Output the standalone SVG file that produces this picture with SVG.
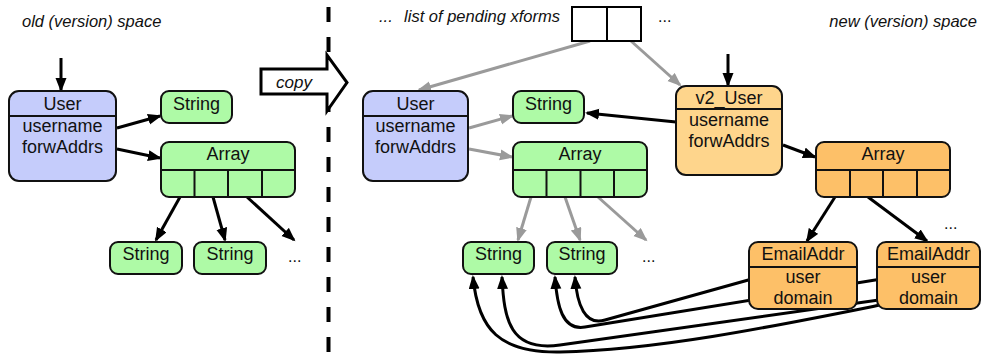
<svg xmlns="http://www.w3.org/2000/svg" width="981" height="356" viewBox="0 0 981 356">
  <defs>
    <marker id="ah" markerUnits="userSpaceOnUse" markerWidth="15" markerHeight="12" refX="12" refY="5.5" orient="auto">
      <path d="M0,0 L14,5.5 L0,11 z" fill="#000"/>
    </marker>
    <marker id="ahg" markerUnits="userSpaceOnUse" markerWidth="15" markerHeight="12" refX="12" refY="5.5" orient="auto">
      <path d="M0,0 L14,5.5 L0,11 z" fill="#9a9a9a"/>
    </marker>
    <style>
      text { font-family: "Liberation Sans", Arial, Helvetica, sans-serif; fill: #111; }
      .lbl { font-size: 18px; text-anchor: middle; }
      .cap { font-size: 16.5px; font-style: italic; }
      .dots { font-size: 16px; }
      .box { stroke: #111; stroke-width: 2; }
      .div { stroke: #111; stroke-width: 2; fill: none; }
      .blue { fill: #c5ccfb; }
      .green { fill: #aefaa6; }
      .ltorange { fill: #fed58c; }
      .orange { fill: #fdc068; }
      .blk { stroke: #000; stroke-width: 3; fill: none; marker-end: url(#ah); }
      .gry { stroke: #9a9a9a; stroke-width: 3; fill: none; marker-end: url(#ahg); }
    </style>
  </defs>

  <rect width="981" height="356" fill="#fff"/>

  <!-- captions -->
  <text class="cap" x="22" y="27">old (version) space</text>
  <text class="cap" x="977" y="27" text-anchor="end">new (version) space</text>
  <text class="cap" x="379" y="22">...</text>
  <text class="cap" x="560" y="22" text-anchor="end">list of pending xforms</text>
  <text class="dots" x="658" y="22">...</text>

  <!-- divider between the two spaces -->
  <line x1="328.5" y1="7" x2="328.5" y2="356" stroke="#000" stroke-width="4" stroke-dasharray="15 15"/>

  <!-- copy arrow -->
  <g id="copy">
    <polygon points="261,69 327,69 327,55 347,82.5 327,111 327,94 261,94" fill="#fff" stroke="#000" stroke-width="3" stroke-linejoin="miter"/>
    <text class="cap" x="294" y="88" text-anchor="middle" style="font-size:17px">copy</text>
  </g>

  <!-- connectors -->
  <g id="connectors">
    <!-- old space -->
    <line class="blk" x1="61" y1="58" x2="61" y2="90"/>
    <line class="blk" x1="117" y1="128" x2="160" y2="116"/>
    <line class="blk" x1="117" y1="149" x2="160" y2="158"/>
    <line class="blk" x1="180" y1="197" x2="156" y2="240"/>
    <line class="blk" x1="213" y1="197" x2="225" y2="240"/>
    <line class="blk" x1="247" y1="197" x2="294" y2="240"/>

    <!-- pending transform list -->
    <line class="gry" x1="590" y1="41" x2="419" y2="90"/>
    <line class="gry" x1="631" y1="41" x2="680" y2="85"/>

    <!-- new space, old copies -->
    <line class="gry" x1="469" y1="128" x2="512" y2="116"/>
    <line class="gry" x1="469" y1="149" x2="512" y2="157"/>
    <line class="gry" x1="531" y1="197" x2="518" y2="240"/>
    <line class="gry" x1="565" y1="197" x2="580" y2="240"/>
    <line class="gry" x1="598" y1="197" x2="646" y2="240"/>

    <!-- new space, transformed objects -->
    <line class="blk" x1="728" y1="54" x2="728" y2="85"/>
    <line class="blk" x1="676" y1="122" x2="587" y2="113"/>
    <line class="blk" x1="783" y1="145" x2="815" y2="157"/>
    <line class="blk" x1="835" y1="197" x2="807" y2="241"/>
    <line class="blk" x1="868" y1="197" x2="927" y2="241"/>

    <!-- EmailAddr fields back to the strings -->
    <path class="blk" d="M770 274 L605 320 C585 326 577 305 575 277"/>
    <path class="blk" d="M900 276 L585 327 C562 331 557 305 555 277"/>
    <path class="blk" d="M900 297 L560 345 C510 352 504 320 502 277"/>
    <path class="blk" d="M885 304 C780 325 660 350 560 352 C500 353 478 330 473 277"/>
  </g>

  <!-- old space nodes -->
  <g id="old-user">
    <rect class="box blue" x="9" y="91" width="107" height="90" rx="10"/>
    <line class="div" x1="9" y1="116" x2="116" y2="116"/>
    <text class="lbl" x="62.5" y="110">User</text>
    <text class="lbl" x="62.5" y="132">username</text>
    <text class="lbl" x="62.5" y="153">forwAddrs</text>
  </g>
  <g id="old-string-name">
    <rect class="box green" x="161" y="91" width="71" height="32" rx="8"/>
    <text class="lbl" x="196.5" y="110">String</text>
  </g>
  <g id="old-array">
    <rect class="box green" x="161" y="142" width="134" height="55" rx="8"/>
    <path class="div" d="M161 170 H295 M194.5 170 V197 M228 170 V197 M262 170 V197"/>
    <text class="lbl" x="228" y="160">Array</text>
  </g>
  <g id="old-string-1">
    <rect class="box green" x="110" y="242" width="72" height="32" rx="8"/>
    <text class="lbl" x="146" y="260">String</text>
  </g>
  <g id="old-string-2">
    <rect class="box green" x="194" y="242" width="72" height="32" rx="8"/>
    <text class="lbl" x="230" y="260">String</text>
  </g>
  <text class="dots" x="288" y="262">...</text>

  <!-- pending transform list -->
  <g id="xform-list">
    <rect x="572" y="7" width="69" height="34" fill="#fff" stroke="#000" stroke-width="2"/>
    <line x1="607" y1="7" x2="607" y2="41" stroke="#000" stroke-width="2"/>
  </g>

  <!-- new space: old copies -->
  <g id="new-old-user">
    <rect class="box blue" x="363" y="91" width="105" height="90" rx="10"/>
    <line class="div" x1="363" y1="116" x2="468" y2="116"/>
    <text class="lbl" x="415.5" y="110">User</text>
    <text class="lbl" x="415.5" y="132">username</text>
    <text class="lbl" x="415.5" y="153">forwAddrs</text>
  </g>
  <g id="new-string-name">
    <rect class="box green" x="513" y="91" width="71" height="32" rx="8"/>
    <text class="lbl" x="548.5" y="110">String</text>
  </g>
  <g id="new-old-array">
    <rect class="box green" x="513" y="142" width="134" height="55" rx="8"/>
    <path class="div" d="M513 170 H647 M546.5 170 V197 M580.5 170 V197 M614 170 V197"/>
    <text class="lbl" x="580" y="160">Array</text>
  </g>
  <g id="new-string-1">
    <rect class="box green" x="463" y="242" width="71" height="32" rx="8"/>
    <text class="lbl" x="498.5" y="260">String</text>
  </g>
  <g id="new-string-2">
    <rect class="box green" x="547" y="242" width="70" height="32" rx="8"/>
    <text class="lbl" x="582" y="260">String</text>
  </g>
  <text class="dots" x="642" y="262">...</text>

  <!-- new space: transformed objects -->
  <g id="v2-user">
    <rect class="box ltorange" x="676" y="86" width="106" height="89" rx="10"/>
    <line class="div" x1="676" y1="109" x2="782" y2="109"/>
    <text class="lbl" x="729" y="104">v2_User</text>
    <text class="lbl" x="729" y="126">username</text>
    <text class="lbl" x="729" y="147">forwAddrs</text>
  </g>
  <g id="v2-array">
    <rect class="box orange" x="816" y="142" width="134" height="55" rx="8"/>
    <path class="div" d="M816 170 H950 M850 170 V197 M883 170 V197 M917 170 V197"/>
    <text class="lbl" x="883" y="160">Array</text>
  </g>
  <g id="email-1">
    <rect class="box orange" x="749" y="242" width="108" height="67" rx="9"/>
    <line class="div" x1="749" y1="267" x2="857" y2="267"/>
    <text class="lbl" x="803" y="260">EmailAddr</text>
    <text class="lbl" x="803" y="283">user</text>
    <text class="lbl" x="803" y="304">domain</text>
  </g>
  <g id="email-2">
    <rect class="box orange" x="877" y="242" width="103" height="67" rx="9"/>
    <line class="div" x1="877" y1="267" x2="980" y2="267"/>
    <text class="lbl" x="928.5" y="260">EmailAddr</text>
    <text class="lbl" x="928.5" y="283">user</text>
    <text class="lbl" x="928.5" y="304">domain</text>
  </g>
  <text class="dots" x="944" y="229">...</text>
</svg>
